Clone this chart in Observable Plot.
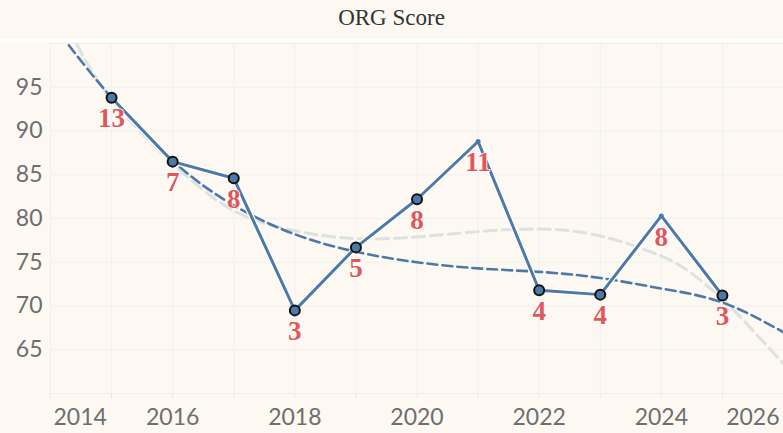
<!DOCTYPE html>
<html>
<head>
<meta charset="utf-8">
<script src="https://cdn.jsdelivr.net/npm/d3@7"></script>
<script src="https://cdn.jsdelivr.net/npm/@observablehq/plot@0.6"></script>
<style>
  html, body { margin: 0; padding: 0; background: #fdf9f2; }
  #wrap { width: 783px; height: 433px; overflow: hidden; background: #fdf9f2; }
  #title {
    height: 39px; line-height: 35px; text-align: center;
    font-family: "Liberation Serif", "Times New Roman", serif; font-size: 23px; color: #333;
    border-bottom: 3px solid #ffffff;
  }
  #chart svg { display: block; overflow: visible; }
</style>
</head>
<body>
<div id="wrap">
  <div id="title">ORG Score</div>
  <div id="chart"></div>
</div>
<script>
// Main series
const years = [2015, 2016, 2017, 2018, 2019, 2020, 2021, 2022, 2023, 2024, 2025];
const scores = [93.8, 86.5, 84.6, 69.5, 76.7, 82.2, 88.8, 71.8, 71.3, 80.3, 71.2];
const counts = [13, 7, 8, 3, 5, 8, 11, 4, 4, 8, 3];
const circled = [true, true, true, true, true, true, false, true, true, false, true];

// Trend line readings (blue dashed)
const trendBlueYears = [2014.3, 2015, 2016, 2017, 2018, 2019, 2020, 2021, 2022, 2023, 2024, 2025, 2026];
const trendBlueValues = [99.8, 93.8, 86.6, 81.5, 78.2, 76.2, 75.0, 74.3, 73.9, 73.2, 72.0, 70.4, 67.0];

// Trend line readings (light grey dashed)
const trendGreyYears = [2014.43, 2015, 2016, 2017, 2018, 2019, 2020, 2021, 2022, 2023, 2024, 2024.5, 2025, 2025.5, 2026];
const trendGreyValues = [99.9, 93.6, 86.3, 80.9, 78.6, 77.7, 77.9, 78.5, 78.8, 78.0, 75.7, 73.7, 70.8, 67.2, 63.4];

// Axis ticks
const xGridTicks = [2014, 2015, 2016, 2017, 2018, 2019, 2020, 2021, 2022, 2023, 2024, 2025, 2026];
const xLabelTicks = [2016, 2018, 2020, 2022, 2024];
const xFirstLabel = [2014];
const xLastLabel = [2026];
const yGridTicks = [60, 65, 70, 75, 80, 85, 90, 95, 100];
const yLabelTicks = [65, 70, 75, 80, 85, 90, 95];

const data = years.map((year, i) => ({year, score: scores[i], count: counts[i], circled: circled[i]}));
const blue = trendBlueYears.map((year, i) => ({year, value: trendBlueValues[i]}));
const grey = trendGreyYears.map((year, i) => ({year, value: trendGreyValues[i]}));

const BLUE = "#4e79a7";
const labelColor = "#6e6e6e";
const gridColor = "#eef0f0";
const axisFont = {fill: labelColor, fontSize: 23, fontWeight: 400, label: null};

const chart = Plot.plot({
  width: 783,
  height: 391,
  marginLeft: 50,
  marginRight: 0,
  marginTop: 1,
  marginBottom: 40,
  style: {background: "transparent", fontFamily: "Lato, 'Open Sans', sans-serif", fontSize: "23px", color: labelColor},
  x: {domain: [2014, 2026], axis: null, label: null},
  y: {domain: [60, 100], axis: null, label: null},
  marks: [
    Plot.gridX(xGridTicks, {stroke: gridColor, strokeOpacity: 1, strokeWidth: 1}),
    Plot.gridY(yGridTicks, {stroke: gridColor, strokeOpacity: 1, strokeWidth: 1}),
    Plot.axisX(xGridTicks.slice(0, 12), {tickSize: 5, tickFormat: () => "", stroke: "#e8e8e8", label: null}),
    Plot.axisX(xLabelTicks, {tickSize: 0, tickPadding: 15, tickFormat: d => String(d), ...axisFont}),
    Plot.axisX(xFirstLabel, {tickSize: 0, tickPadding: 15, tickFormat: d => String(d), textAnchor: "start", dx: 3, ...axisFont}),
    Plot.axisX(xLastLabel, {tickSize: 0, tickPadding: 15, tickFormat: d => String(d), textAnchor: "end", dx: -4, ...axisFont}),
    Plot.axisY(yLabelTicks, {tickSize: 0, tickPadding: 8, tickFormat: d => String(d), ...axisFont}),
    Plot.line(grey, {x: "year", y: "value", curve: "natural", stroke: "#dde1e0", strokeWidth: 3, strokeDasharray: "12,6", clip: true}),
    Plot.line(blue, {x: "year", y: "value", curve: "natural", stroke: BLUE, strokeWidth: 2.6, strokeDasharray: "10,5", clip: true}),
    Plot.line(data, {x: "year", y: "score", stroke: "#ffffff", strokeWidth: 5.5}),
    Plot.line(data, {x: "year", y: "score", stroke: BLUE, strokeWidth: 3}),
    Plot.dot(data.filter(d => d.circled), {x: "year", y: "score", r: 5, fill: BLUE, stroke: "#111", strokeWidth: 2}),
    Plot.dot(data.filter(d => !d.circled), {x: "year", y: "score", r: 2.5, fill: BLUE}),
    Plot.text(data, {x: "year", y: "score", text: d => String(d.count), fill: "#e15759", fontSize: 27, fontWeight: "bold",
      fontFamily: "'Liberation Serif', 'Times New Roman', serif", lineAnchor: "middle", dy: 21,
      stroke: "#ffffff", strokeWidth: 1.5, paintOrder: "stroke"})
  ]
});
document.getElementById("chart").appendChild(chart);
</script>
</body>
</html>
